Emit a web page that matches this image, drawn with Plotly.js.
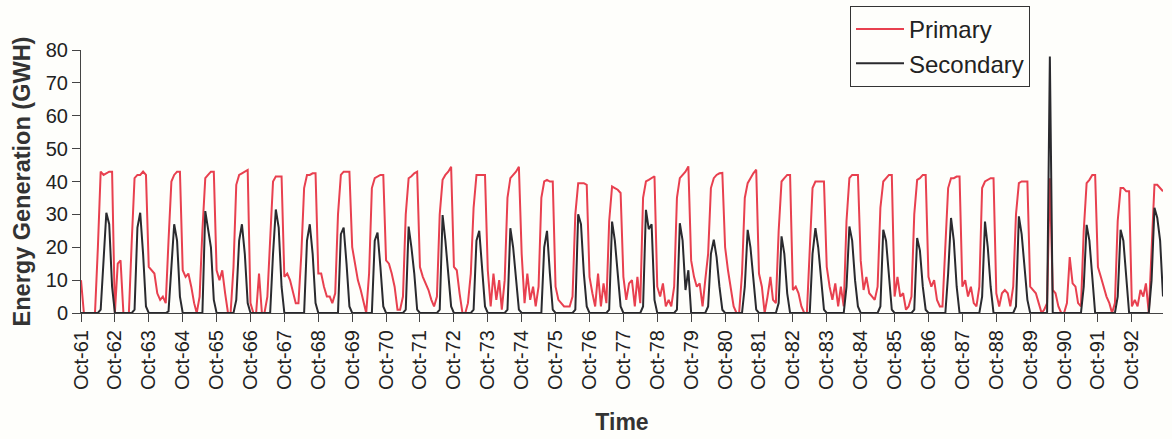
<!DOCTYPE html>
<html>
<head>
<meta charset="utf-8">
<script src="https://cdn.plot.ly/plotly-3.0.1.min.js"></script>
<style>
  html, body { margin: 0; padding: 0; background: #fefefb; }
  #chart { width: 1172px; height: 439px; }
</style>
</head>
<body>
<div id="chart"></div>
<script>
// Monthly energy generation (GWH), water years Oct-61 ... Sep-93, one row per water year (Oct..Sep)
const primary = [
  10, 0, 0, 0, 0, 0, 20, 43, 42, 42.5, 43, 43,
  0, 15, 16, 0, 0, 0, 22, 41, 42, 42, 43, 42,
  14, 13, 12, 6, 4, 5, 3, 22, 40, 42, 43, 43,
  13, 11, 12, 8, 3, 0, 5, 25, 41, 42, 43, 43,
  13, 10, 13, 6, 0, 0, 14, 39, 42, 42.5, 43, 43.5,
  3, 0, 0, 12, 0, 0, 5, 22, 40, 41.5, 41.5, 41.5,
  11, 12, 10, 6, 3, 3, 18, 38, 42, 42, 42.5, 42.5,
  12, 12, 8, 5, 5, 3, 6, 30, 42, 43, 43, 43,
  20, 15, 10, 7, 3, 0, 12, 38, 41, 41.5, 42, 42,
  16, 15, 12, 8, 1, 1, 5, 30, 41, 41.6, 42.5, 43,
  14, 11, 9, 7, 4, 2, 5, 30, 40.5, 42, 43, 44.5,
  14, 13, 6, 0, 0, 3, 12, 32, 42, 42, 42, 42,
  13, 2, 12, 4, 10, 1, 10, 35, 41, 42, 43, 44.5,
  18, 3, 12, 4, 8, 2, 8, 35, 40, 40.5, 40, 40,
  8, 4, 3, 2, 2, 2, 5, 30, 39.5, 39.5, 39.5, 39,
  11, 6, 2, 12, 2, 9, 3, 28, 38.5, 38, 37.5, 36.5,
  11, 4, 9, 10, 2, 11, 3, 35, 40, 40.5, 41, 41.6,
  8, 5, 9, 2, 4, 2, 8, 35, 41, 42, 43, 44.6,
  16, 11, 8, 9, 2, 10, 18, 38, 41, 42, 42.5, 42.6,
  20, 13, 7, 2, 0, 0, 12, 35, 39.5, 41, 42.5, 43.6,
  12, 8, 0, 5, 11, 4, 3, 25, 40, 41, 42, 42,
  7, 8, 6, 2, 0, 0, 20, 38, 40, 40, 40, 40,
  14, 8, 4, 9, 2, 8, 2, 28, 41, 42, 42, 42,
  16, 7, 11, 6, 5, 4, 8, 32, 40, 41, 42, 42,
  5, 11, 5, 6, 1, 2, 5, 30, 40.5, 41, 42, 42,
  11, 8, 10, 4, 2, 2, 20, 38, 41, 41, 41.5, 41.5,
  8, 10, 5, 8, 3, 2, 8, 38, 40, 40.5, 41, 41,
  6, 2, 6, 7, 6, 2, 8, 30, 39.5, 40, 40, 40,
  8, 7, 6, 3, 0, 1, 3, 41, 7, 6, 2, 0,
  0, 3, 17, 9, 8, 3, 2, 25, 39.5, 40.5, 42, 42,
  14, 11, 8, 5, 3, 0, 3, 28, 38, 38, 37, 37,
  2, 4, 2, 7, 5, 9, 0, 20, 39, 39, 38, 37
];

const secondary = [
  0, 0, 0, 0, 0, 0, 0, 1, 18, 30.5, 27, 8,
  0, 0, 0, 0, 0, 0, 0, 1, 26, 30.5, 18, 2,
  0, 0, 0, 0, 0, 0, 0, 0.5, 14, 27, 22, 5,
  0, 0, 0, 0, 0, 0, 0, 0, 31, 25, 20, 4,
  0, 0, 0, 0, 0, 0, 0, 4, 22, 27, 18, 3,
  0, 0, 0, 0, 0, 0, 0, 0, 18, 31.5, 26, 8,
  0, 0, 0, 0, 0, 0, 0, 0, 22, 27, 18, 3,
  0, 0, 0, 0, 0, 0, 0, 0, 24, 26, 15, 2,
  0, 0, 0, 0, 0, 0, 0, 0, 22, 24.5, 14, 2,
  0, 0, 0, 0, 0, 0, 0, 1, 26.3, 20, 12, 1,
  0, 0, 0, 0, 0, 0, 0, 1, 29.8, 22, 12, 2,
  0, 0, 0, 0, 0, 0, 0, 1, 22, 25, 12, 2,
  0, 0, 0, 0, 0, 0, 0, 1, 25.8, 20, 10, 1,
  0, 0, 0, 0, 0, 0, 0, 0, 20, 25, 12, 1,
  0, 0, 0, 0, 0, 0, 0, 1, 30, 27, 12, 2,
  0, 0, 0, 0, 0, 0, 0, 1, 27.8, 22, 12, 2,
  0, 0, 0, 0, 0, 0, 0, 2, 31.4, 25.5, 27, 4,
  0, 0, 0, 0, 0, 0, 0, 1, 27.3, 22, 7, 13,
  0, 0, 0, 0, 0, 0, 2, 18, 22.3, 17, 8, 1,
  0, 0, 0, 0, 0, 0, 0, 8, 25.3, 20, 10, 1,
  0, 0, 0, 0, 0, 0, 0, 3, 23.3, 18, 6, 0,
  0, 0, 0, 0, 0, 0, 0, 18, 25.8, 20, 10, 1,
  0, 0, 0, 0, 0, 0, 0, 8, 26.3, 22, 10, 2,
  0, 0, 0, 0, 0, 0, 0, 2, 25.3, 22, 10, 1,
  0, 0, 0, 0, 0, 0, 0, 1, 22.8, 19, 8, 1,
  0, 0, 0, 0, 0, 0, 0, 12, 28.9, 22, 8, 0,
  0, 0, 0, 0, 0, 0, 0, 5, 27.8, 20, 8, 0,
  0, 0, 0, 0, 0, 0, 0, 2, 29.4, 24, 14, 4,
  0, 0, 0, 0, 0, 0, 0, 78, 0, 0, 0, 0,
  0, 0, 0, 0, 0, 0, 0, 8, 26.8, 22, 10, 0,
  0, 0, 0, 0, 0, 0, 0, 5, 25.3, 22, 10, 0,
  0, 0, 0, 0, 0, 0, 0, 10, 32, 29, 22, 5
];

const startYear = 1961;   // first month: October 1961
const startMonth = 10;
const tickYears = [];
for (let y = 1961; y <= 1992; y++) tickYears.push(y);

function monthDate(i) {
  const m0 = (startMonth - 1) + i;
  const y = startYear + Math.floor(m0 / 12);
  const m = (m0 % 12) + 1;
  return y + '-' + String(m).padStart(2, '0') + '-01';
}
const months = primary.map((_, i) => monthDate(i));
const tickVals = tickYears.map(y => y + '-10-01');
const tickText = tickYears.map(y => 'Oct-' + String(y).slice(2));

const FONT = 'Liberation Sans, Arial, sans-serif';

const traces = [
  {
    x: months, y: primary, name: 'Primary', type: 'scatter', mode: 'lines',
    line: { color: '#e8404f', width: 2 }
  },
  {
    x: months, y: secondary, name: 'Secondary', type: 'scatter', mode: 'lines',
    line: { color: '#2a2a2e', width: 2 }
  }
];

const layout = {
  width: 1172, height: 439,
  paper_bgcolor: '#fefefb', plot_bgcolor: '#fefefb',
  margin: { l: 81, r: 9, t: 50, b: 126, autoexpand: false },
  font: { family: FONT, color: '#222' },
  showlegend: true,
  legend: {
    x: 850 / 1172, y: 1 - 6 / 439, xref: 'container', yref: 'container',
    xanchor: 'left', yanchor: 'top',
    bgcolor: '#fefefb', bordercolor: '#333', borderwidth: 1,
    font: { size: 24, family: FONT, color: '#222' },
    itemwidth: 48,
    tracegroupgap: 4
  },
  xaxis: {
    type: 'date',
    range: [months[0], months[months.length - 1]],
    tickmode: 'array', tickvals: tickVals, ticktext: tickText,
    tickangle: -90,
    tickfont: { size: 20, family: FONT, color: '#222' },
    ticks: 'outside', ticklen: 8, tickcolor: '#444', tickwidth: 1,
    showline: true, linecolor: '#444', linewidth: 1,
    showgrid: false, zeroline: false, automargin: false,
    title: { text: '<b>Time</b>', font: { size: 23, family: FONT, color: '#333' }, standoff: 24 }
  },
  yaxis: {
    range: [0, 80], tickmode: 'linear', tick0: 0, dtick: 10,
    tickfont: { size: 20, family: FONT, color: '#222' },
    ticks: 'outside', ticklen: 8, tickcolor: '#444', tickwidth: 1,
    showline: true, linecolor: '#444', linewidth: 1,
    showgrid: false, zeroline: false, automargin: false,
    title: { text: '<b>Energy Generation (GWH)</b>', font: { size: 23.5, family: FONT, color: '#333' }, standoff: 8 }
  }
};

Plotly.newPlot('chart', traces, layout, { displayModeBar: false, staticPlot: true });
</script>
</body>
</html>
